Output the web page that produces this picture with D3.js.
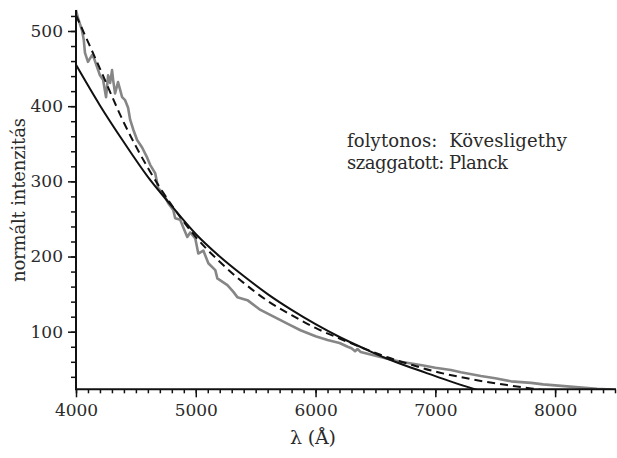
<!DOCTYPE html>
<html><head><meta charset="utf-8">
<script src="https://cdn.jsdelivr.net/npm/d3@7"></script>
<style>
html,body{margin:0;padding:0;background:#fff;}
svg{display:block;}
text{font-family:"DejaVu Serif",serif;fill:#2a2a2a;}
</style></head>
<body>
<script>
// Kövesligethy (solid)
const kovLambda = [4000,4200,4400,4600,4800,5000,5200,5400,5600,5800,6000,6200,6400,6600,6800,7000,7200,7400];
const kovValues = [455,401,352,306,267,230,200,174,150,129,110,93,78,64,52,41,30,20];
// Planck (dashed)
const planckLambda = [4000,4200,4400,4600,4800,5000,5200,5400,5600,5800,6000,6200,6400,6600,6800,7000,7200,7400,7600,7800,8000];
const planckValues = [521,450,378,318,268,226,193,165,141,122,105,91,78,66,56,47,40,34,29,24.5,20];
// observed spectrum (gray)
const obsLambda = [4000,4017,4050,4065,4075,4100,4134,4150,4176,4200,4226,4251,4268,4285,4301,4310,4326,4351,4385,4410,4435,4452,4480,4510,4552,4590,4619,4661,4686,4728,4770,4812,4828,4870,4895,4929,4954,4996,5021,5063,5105,5163,5180,5264,5314,5347,5431,5540,5650,5760,5874,6000,6100,6200,6268,6300,6330,6350,6377,6500,6600,6711,6900,7000,7130,7213,7380,7500,7632,7800,7900,8050,8200,8350,8469,8500];
const obsValues = [528,517,501,488,471,459,468,464,452,441,435,412,441,431,448,435,417,432,412,408,398,382,368,355,345,333,322,311,291,284,271,262,251,249,239,226,232,224,204,208,191,182,171,162,153,146,142,129,120,111,102,94,89,85,80,78,74,77,73,68,64,60,55,52,49,46,41,38,34,32,30,28,26,24,23,22];

const xTicks = [4000,5000,6000,7000,8000];
const yTicks = [100,200,300,400,500];
const xLabel = "λ (Å)";
const yLabel = "normált intenzitás";
const legendLines = ["folytonos:  Kövesligethy","szaggatott: Planck"];

const W=617,H=458, FS="17px";
const svg=d3.select("body").append("svg").attr("width",W).attr("height",H);
const x=d3.scaleLinear().domain([4000,8500]).range([76,615]);
const y=d3.scaleLinear().domain([0,500]).range([406.9,31]);
const yMin=23.4, yMax=528;

svg.append("defs").append("clipPath").attr("id","clip").append("rect")
  .attr("x",x(4000)).attr("y",y(yMax)-2).attr("width",x(8500)-x(4000)+2).attr("height",y(yMin)-y(yMax)+2);

const g=svg.append("g").attr("clip-path","url(#clip)");
const lineOf=(xs,vs,curve)=>d3.line().x((d,i)=>x(xs[i])).y(d=>y(d)).curve(curve)(vs);

g.append("path").attr("d",lineOf(obsLambda,obsValues,d3.curveLinear))
  .attr("fill","none").attr("stroke","#868686").attr("stroke-width",2.6).attr("stroke-linejoin","round");
g.append("path").attr("d",lineOf(planckLambda,planckValues,d3.curveMonotoneX))
  .attr("fill","none").attr("stroke","#111").attr("stroke-width",2).attr("stroke-dasharray","8,5");
g.append("path").attr("d",lineOf(kovLambda,kovValues,d3.curveMonotoneX))
  .attr("fill","none").attr("stroke","#111").attr("stroke-width",2);

// axes
const xAxisY=y(yMin);
const xa=svg.append("g").attr("transform",`translate(0,${xAxisY})`);
xa.call(d3.axisBottom(x).tickValues(d3.range(4000,8501,100)).tickSize(4).tickFormat(""));
xa.selectAll(".tick line").attr("stroke","#111").attr("stroke-width",1.5);
const xa2=svg.append("g").attr("transform",`translate(0,${xAxisY})`);
xa2.call(d3.axisBottom(x).tickValues(xTicks).tickSize(8).tickPadding(7).tickFormat(d3.format("d")));
xa2.selectAll(".tick line").attr("stroke","#111").attr("stroke-width",1.5);
xa2.selectAll("text").style("font-size",FS).attr("fill","#2a2a2a").style("font-family",'"DejaVu Serif",serif');

const yaMinor=svg.append("g").attr("transform",`translate(${x(4000)},0)`);
yaMinor.call(d3.axisLeft(y).tickValues(d3.range(40,521,20)).tickSize(5).tickFormat(""));
yaMinor.selectAll(".tick line").attr("stroke","#111").attr("stroke-width",1.5);
const ya=svg.append("g").attr("transform",`translate(${x(4000)},0)`);
ya.call(d3.axisLeft(y).tickValues(yTicks).tickSize(8).tickPadding(5).tickFormat(d3.format("d")));
ya.selectAll(".tick line").attr("stroke","#111").attr("stroke-width",1.5);
ya.selectAll("text").style("font-size",FS).attr("fill","#2a2a2a").style("font-family",'"DejaVu Serif",serif');
svg.selectAll(".domain").remove();

svg.append("line").attr("x1",x(4000)).attr("x2",x(8500)+1).attr("y1",xAxisY).attr("y2",xAxisY).attr("stroke","#111").attr("stroke-width",2);
svg.append("line").attr("x1",x(4000)).attr("x2",x(4000)).attr("y1",y(yMax)).attr("y2",xAxisY+1).attr("stroke","#111").attr("stroke-width",2);

svg.append("text").attr("x",290).attr("y",444).style("font-size","19px")
  .attr("textLength",46).attr("lengthAdjust","spacing").text(xLabel);
svg.append("text").attr("transform","translate(25,282) rotate(-90)").style("font-size","18px")
  .attr("textLength",164).attr("lengthAdjust","spacing").text(yLabel);

svg.append("text").attr("x",347).attr("y",147).style("font-size","18px").style("white-space","pre").attr("xml:space","preserve")
  .attr("textLength",220).attr("lengthAdjust","spacing").text(legendLines[0]);
svg.append("text").attr("x",347).attr("y",169).style("font-size","18px").style("white-space","pre")
  .attr("textLength",161).attr("lengthAdjust","spacing").text(legendLines[1]);
</script>
</body></html>
